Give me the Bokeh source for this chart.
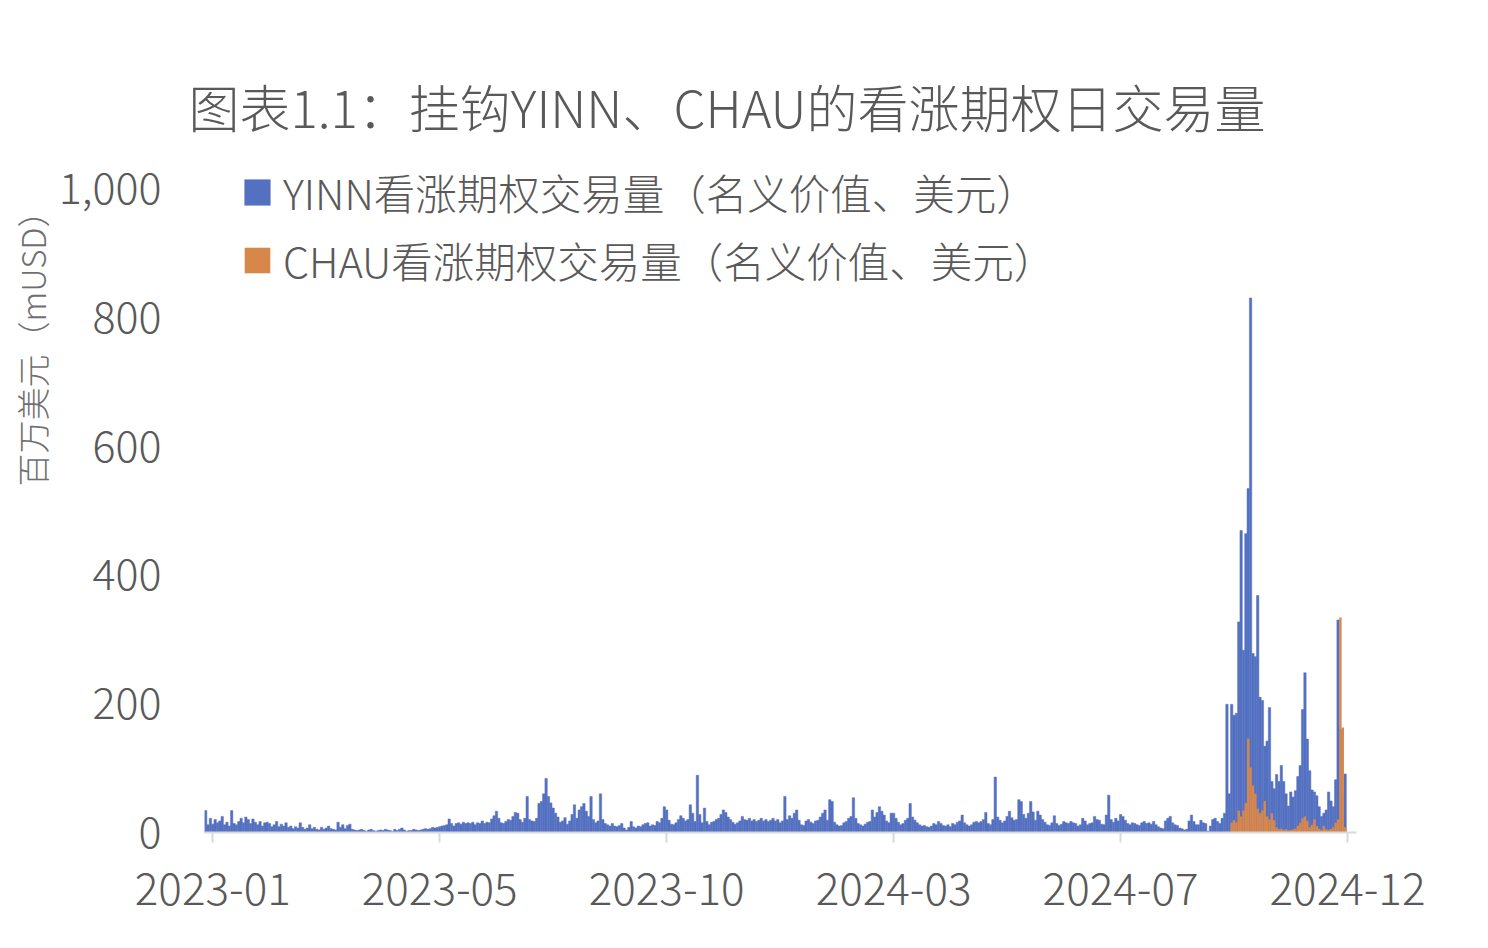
from bokeh.plotting import figure
from bokeh.models import (Range1d, FixedTicker, NumeralTickFormatter, Title,
                          Legend, LegendItem, ColumnDataSource)
from bokeh.embed import file_html
from bokeh.resources import INLINE

FONT_LIGHT = "Noto Sans CJK SC Light"
TXT = "#595959"
BLUE = "#5470c1"
ORANGE = "#d8874b"

title_text = "图表1.1：挂钩YINN、CHAU的看涨期权日交易量"
y_label_text = "百万美元（mUSD）"
series_names = ["YINN看涨期权交易量（名义价值、美元）", "CHAU看涨期权交易量（名义价值、美元）"]

# x-axis labels (trading-day index at which each label sits)
tick_idx = [3, 99, 195, 291, 387, 483]
tick_labels = ["2023-01", "2023-05", "2023-10", "2024-03", "2024-07", "2024-12"]
y_ticks = [0, 200, 400, 600, 800, 1000]

# YINN daily call volume (mUSD)
yinn_2023_early = [
    34, 12, 22, 13, 20, 15, 18, 25, 12, 16, 10,
    34, 14, 12, 17, 22, 15, 24, 20, 14, 21,
    16, 12, 17, 10, 15, 16, 14, 9, 12, 17,
    9, 13, 10, 15, 8, 10, 6, 9, 7, 15,
    8, 5, 7, 12, 6, 8, 5, 4, 8, 5,
    7, 10, 6, 5, 4, 16, 8, 12, 6, 11,
    13, 5, 4, 3, 4, 5, 3, 2, 4, 5,
    3, 2, 3, 4, 3, 5, 4, 3, 2, 5,
    3, 5, 7, 4, 2, 3, 3, 5, 4, 3,
    4, 5, 6, 5, 6, 8, 7, 8, 9, 10,
    11, 12, 21, 14, 10, 14, 15, 13, 16, 14,
    15, 14, 16, 12, 15, 14, 18, 14, 16, 15, 21, 26,
]
yinn_2023_late = [
    33, 22, 15, 14, 17, 20, 19, 25, 31, 30,
    20, 16, 22, 56, 20, 18, 17, 22, 45, 48,
    60, 84, 56, 46, 38, 30, 24, 16, 18, 23,
    13, 18, 28, 43, 22, 35, 40, 45, 33, 25,
    56, 20, 15, 18, 60, 20, 14, 12, 10, 14,
    10, 9, 11, 14, 7, 4, 8, 17, 9, 7,
    10, 9, 12, 14, 15, 10, 12, 11, 17, 15,
    22, 40, 35, 19, 13, 12, 15, 20, 26, 22,
    18, 20, 43, 30, 17, 89, 28, 15, 38, 17,
    12, 16, 17, 20, 22, 28, 35, 31, 24, 20,
    16, 13, 15, 18, 25, 20, 19, 22, 18, 20,
    17, 19, 22, 18, 20, 17, 19, 22, 18, 20,
]
yinn_2024_h1 = [
    15, 18, 56, 20, 26, 22, 30, 35, 19, 12,
    11, 18, 20, 16, 14, 18, 19, 24, 30, 35,
    19, 51, 48, 16, 12, 10, 11, 15, 17, 22,
    25, 54, 22, 14, 12, 10, 13, 16, 17, 35,
    24, 31, 40, 33, 27, 18, 15, 30, 30, 22,
    16, 12, 14, 19, 22, 45, 24, 19, 15, 12,
    10, 11, 9, 8, 10, 14, 12, 17, 14, 11,
    10, 12, 9, 14, 12, 16, 18, 27, 15, 12,
    10, 12, 16, 17, 15, 17, 20, 31, 14, 12,
    20, 86, 24, 19, 15, 18, 25, 33, 23, 19,
    20, 51, 48, 28, 22, 30, 48, 32, 19, 33,
    27, 20, 16, 12, 11, 15, 26, 14, 11, 13,
    17, 15, 14,
]
yinn_2024_q3 = [
    17, 15, 14, 10, 12, 22, 18, 12, 14, 15,
    25, 20, 19, 13, 12, 27, 58, 20, 16, 22,
    18, 28, 25, 19, 14, 12, 15, 14, 12, 11,
    15, 17, 14, 15, 13, 17, 12, 9, 7, 6,
    18, 22, 25, 15, 12, 11, 7, 6, 4, 5,
    18, 27, 17, 12, 12, 19, 15, 14, 2, 10,
    20, 22, 17, 14,
]
yinn_2024_q4 = [
    22, 30, 199, 60, 199, 182, 185, 327, 469, 283,
    464, 534, 830, 278, 273, 368, 210, 205, 134, 142,
    194, 79, 68, 90, 79, 104, 79, 60, 41, 63,
    55, 65, 87, 104, 191, 248, 145, 96, 66, 63,
    57, 40, 25, 30, 35, 63, 49, 40, 82, 330,
    160, 60, 91,
]
# CHAU daily call volume (mUSD): not visible before late Sep 2024
chau_before = [0] * 434
chau_2024_q4 = [
    15, 19, 16, 34, 25, 34, 46, 146, 101, 73,
    60, 37, 30, 34, 49, 25, 20, 30, 19, 8,
    5, 6, 4, 5, 3, 4, 5, 6, 10, 15,
    22, 25, 18, 8, 12, 20, 10, 6, 4, 10,
    5, 4, 6, 8, 15, 20, 334, 163, 8,
]

yinn = yinn_2023_early + yinn_2023_late + yinn_2024_h1 + yinn_2024_q3 + yinn_2024_q4
chau = chau_before + chau_2024_q4
idx = list(range(len(yinn)))
src = ColumnDataSource(dict(x=idx, yinn=yinn, chau=chau))

p = figure(width=1480, height=940, output_backend="svg", toolbar_location=None,
           x_range=Range1d(-0.5, 486.8), y_range=Range1d(0, 1059),
           min_border_left=204, min_border_right=124, min_border_top=150,
           min_border_bottom=108, title_location=None)
p.outline_line_color = None
p.xgrid.visible = False
p.ygrid.visible = False

r1 = p.vbar(x="x", top="yinn", width=1.0, source=src, fill_color=BLUE,
            line_color=BLUE, line_width=0.5)
r2 = p.vbar(x="x", top="chau", width=1.0, source=src, fill_color=ORANGE,
            line_color=None)

xa = p.xaxis[0]
xa.ticker = FixedTicker(ticks=tick_idx)
xa.major_label_overrides = {i: s for i, s in zip(tick_idx, tick_labels)}
xa.axis_line_color = "#d9d9d9"
xa.axis_line_width = 2
xa.major_tick_line_color = "#d9d9d9"
xa.major_tick_line_width = 2
xa.major_tick_out = 10
xa.major_tick_in = 0
xa.minor_tick_line_color = None
xa.major_label_text_font = FONT_LIGHT
xa.major_label_text_font_size = "44px"
xa.major_label_text_color = TXT
xa.major_label_standoff = 30

ya = p.yaxis[0]
ya.ticker = FixedTicker(ticks=y_ticks)
ya.formatter = NumeralTickFormatter(format="0,0")
ya.axis_line_color = None
ya.major_tick_line_color = None
ya.minor_tick_line_color = None
ya.major_tick_out = 0
ya.major_tick_in = 0
ya.major_label_standoff = 43
ya.major_label_text_font = FONT_LIGHT
ya.major_label_text_font_size = "43px"
ya.major_label_text_color = TXT

legend = Legend(items=[LegendItem(label=series_names[0], renderers=[r1]),
                       LegendItem(label=series_names[1], renderers=[r2])],
                location=(37, 542), orientation="vertical",
                glyph_width=32, glyph_height=32, label_standoff=10, spacing=8,
                padding=0, margin=0, border_line_color=None,
                background_fill_alpha=0,
                label_text_font=FONT_LIGHT, label_text_font_size="41.5px",
                label_text_color=TXT)
p.add_layout(legend)

p.add_layout(Title(text=title_text, align="left", offset=-16, standoff=16,
                   text_font=FONT_LIGHT, text_font_size="51px", text_color=TXT,
                   text_font_style="normal"), "above")
p.add_layout(Title(text=y_label_text, align="right", offset=44, standoff=0,
                   text_font=FONT_LIGHT, text_font_size="33px", text_color="#6f6f6f",
                   text_font_style="normal"), "left")

open("out.html", "w").write(file_html(p, INLINE))
